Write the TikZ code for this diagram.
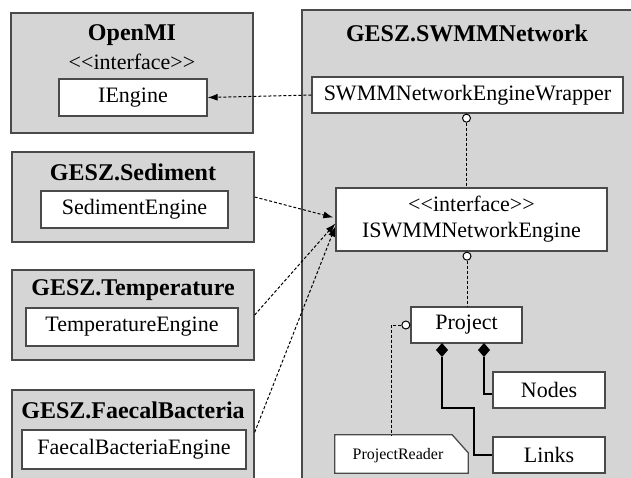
\documentclass[tikz,border=0pt]{standalone}
\usepackage{fontspec}
\setmainfont{Liberation Serif}[Ligatures=TeXOff]
\usetikzlibrary{arrows.meta,calc}
\definecolor{pkgfill}{HTML}{D5D5D5}
\definecolor{edge}{HTML}{4A4A4A}
\tikzset{
  pkg/.style={draw=edge,line width=1.3pt,fill=pkgfill,inner sep=0pt},
  cls/.style={draw=edge,line width=1.3pt,fill=white,inner sep=0pt,font=\fontsize{22}{26}\selectfont},
  ttl/.style={font=\fontsize{24}{28}\selectfont\bfseries,inner sep=0pt},
  stereo/.style={font=\fontsize{22}{26}\selectfont,inner sep=0pt},
  dep/.style={line width=1pt,dash pattern=on 3pt off 2pt,-{Latex[length=10pt,width=7pt]}},
  dline/.style={line width=1pt,dash pattern=on 3pt off 2pt},
  sline/.style={line width=1.1pt},
  lolli/.style={draw=black,line width=1pt,fill=white},
  diam/.style={fill=black}
}
\begin{document}
\begin{tikzpicture}[x=1pt,y=-1pt]
\useasboundingbox (0,0) rectangle (631,477);
\clip (0,0) rectangle (631,477);
\fill[white] (0,0) rectangle (631,477);
% packages
\node[pkg,minimum width=242pt,minimum height=120pt] (openmi) at (132,73) {};
\node[ttl] (openmit) at (132,35) {OpenMI};
\node[stereo] (openmis) at (132,62) {<<interface>>};
\node[cls,minimum width=148pt,minimum height=37pt] (iengine) at (133,97.5) {IEngine};

\node[pkg,minimum width=242pt,minimum height=90pt] (sedpkg) at (133,197) {};
\node[ttl] (sedt) at (133,172) {GESZ.Sediment};
\node[cls,minimum width=187pt,minimum height=37pt] (sedeng) at (134.5,209.5) {SedimentEngine};

\node[pkg,minimum width=242pt,minimum height=90pt] (temppkg) at (133,315) {};
\node[ttl] (tempt) at (133,290) {GESZ.Temperature};
\node[cls,minimum width=212pt,minimum height=38pt] (tempeng) at (132,327) {TemperatureEngine};

\node[pkg,minimum width=242pt,minimum height=100pt] (faecpkg) at (133,440) {};
\node[ttl] (faect) at (133,410) {GESZ.FaecalBacteria};
\node[cls,minimum width=224pt,minimum height=39pt] (faeceng) at (134,449.5) {FaecalBacteriaEngine};

\node[pkg,minimum width=338pt,minimum height=480pt] (swmm) at (471,250) {};
\node[ttl] (swmmt) at (467,33) {GESZ.SWMMNetwork};
\node[cls,minimum width=311pt,minimum height=36pt] (wrapper) at (467.5,95) {SWMMNetworkEngineWrapper};
\node[cls,minimum width=271pt,minimum height=63pt,align=center] (iswmm) at (471.5,219.5) {<<interface>>\\ISWMMNetworkEngine};
\node[cls,minimum width=111pt,minimum height=36pt] (project) at (466.5,325) {Project};
\node[cls,minimum width=112pt,minimum height=36pt] (nodes) at (549,390) {Nodes};
\node[cls,minimum width=112pt,minimum height=36pt] (links) at (549,455) {Links};
\node[minimum width=133pt,minimum height=38pt,inner sep=0pt] (pr) at (401.5,454) {};
\draw[draw=edge,line width=1.3pt,fill=white] (pr.south west) -- (pr.north west) -- ($(pr.north east)+(-16,0)$) -- ($(pr.north east)+(0,18)$) -- (pr.south east) -- cycle;
\node[font=\fontsize{16}{18}\selectfont,inner sep=0pt] (prt) at (398,456) {ProjectReader};

% dependencies
\draw[dep] (wrapper.west) -- (iengine.east);
\coordinate (t1) at ($(iswmm.west)+(-2,-2)$);
\coordinate (t2) at ($(iswmm.west)+(0,4)$);
\coordinate (t3) at ($(iswmm.west)+(0,7)$);
\coordinate (s3) at ($(faecpkg.north east)+(0,43)$);
\draw[dep] (sedpkg.east) -- (t1);
\draw[dep] (temppkg.east) -- (t2);
\draw[dep] (s3) -- (t3);

% lollipops
\node[lolli,circle,minimum size=8pt,inner sep=0pt] (l1) at ($(wrapper.south)+(-1,4.5)$) {};
\draw[dline] (l1.south) -- (l1.south |- iswmm.north);
\node[lolli,circle,minimum size=8pt,inner sep=0pt] (l2) at ($(iswmm.south)+(-4.5,4.5)$) {};
\draw[dline] (l2.south) -- (l2.south |- project.north);
\node[lolli,circle,minimum size=8pt,inner sep=0pt] (l3) at ($(project.west)+(-4.5,0)$) {};
\coordinate (pc) at (391,325);
\draw[dline] (l3.west) -- (pc) -- (pc |- pr.north);

% compositions
\coordinate (d1) at (442,343);
\coordinate (d2) at (484,343);
\fill[diam] (d1) -- ++(6,7) -- ++(-6,7) -- ++(-6,-7) -- cycle;
\fill[diam] (d2) -- ++(6,7) -- ++(-6,7) -- ++(-6,-7) -- cycle;
\coordinate (b1) at (442,408);
\coordinate (b2) at (474,408);
\draw[sline] ($(d1)+(0,14)$) -- (b1) -- (b2) -- (b2 |- links.west) -- (links.west);
\coordinate (b3) at (484,394);
\draw[sline] ($(d2)+(0,14)$) -- (b3) -- (b3 -| nodes.west);
\end{tikzpicture}
\end{document}
